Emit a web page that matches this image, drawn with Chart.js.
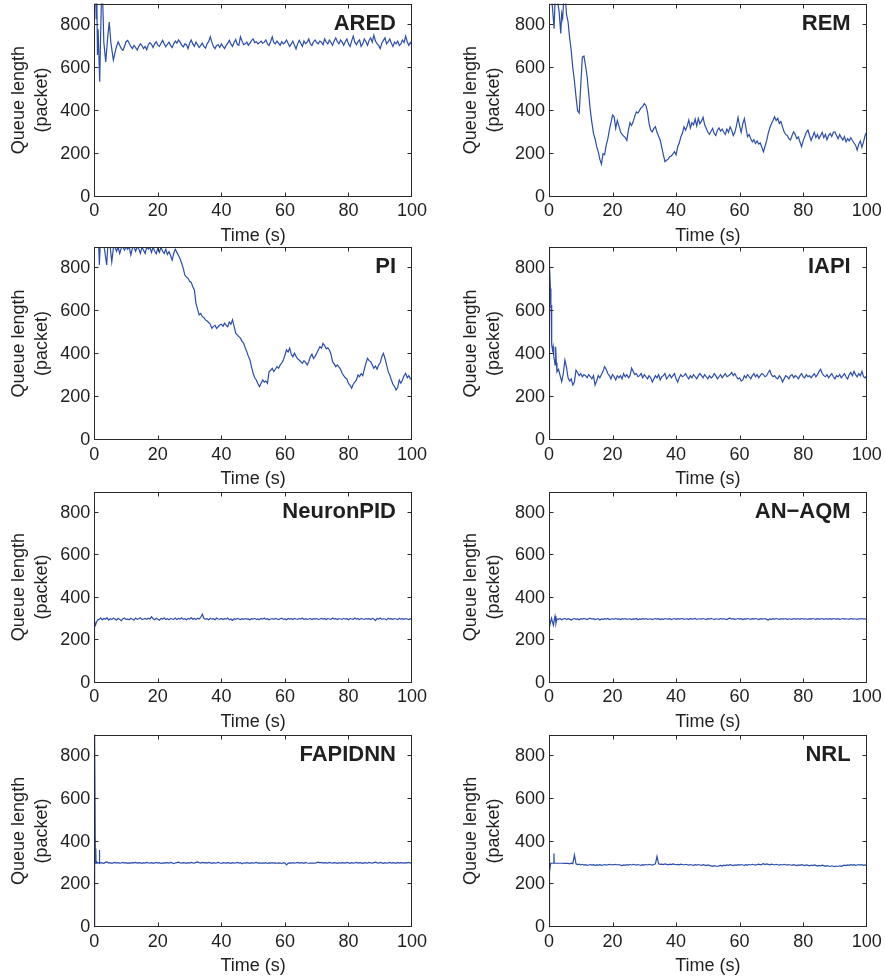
<!DOCTYPE html>
<html>
<head>
<meta charset="utf-8">
<title>Queue length</title>
<script src="https://cdn.jsdelivr.net/npm/chart.js@4.4.0/dist/chart.umd.min.js"></script>
<style>
  body { margin: 0; background: #fff; }
  #figure { position: relative; width: 885px; height: 978px; }
  #figure canvas { position: absolute; }
</style>
</head>
<body>
<div id="figure"></div>
<script>
// ========== Axis ticks ==========
const xTicks = [0, 20, 40, 60, 80, 100];
const yTicks = [0, 200, 400, 600, 800];

// tail samples are every 0.5 s, head samples carry their own times
const tailStep = 0.5;

// ========== ARED ==========
const aredHeadT = [0, 0.02, 0.4, 0.6, 0.8, 1.0, 1.2, 1.7, 2.0, 2.3, 2.6, 3.0, 3.6, 4.2, 4.7, 5.2, 6.0, 6.5, 7.0, 7.5];
const aredHeadQ = [0, 950, 950, 830, 920, 660, 780, 535, 760, 950, 940, 720, 628, 740, 814, 720, 636, 670, 700, 721];
const aredTailFrom = 8;
const aredTailQ = [
  705, 690, 682, 700, 722, 728, 715, 700, 690, 705,
  695, 683, 700, 712, 704, 690, 700, 685, 708, 718,
  710, 695, 712, 722, 706, 700, 715, 728, 712, 698,
  710, 720, 705, 695, 712, 725, 715, 730, 720, 706,
  698, 712, 708, 690, 715, 730, 712, 700, 720, 708,
  695, 705, 715, 700, 692, 712, 722, 745, 720, 700,
  690, 705, 708, 695, 712, 700, 690, 705, 715, 728,
  712, 700, 718, 732, 710, 705, 745, 725, 708, 712,
  720, 705, 715, 728, 735, 718, 722, 712, 718, 725,
  715, 720, 730, 712, 705, 722, 745, 718, 712, 725,
  715, 705, 722, 712, 718, 730, 715, 700, 712, 725,
  705, 688, 712, 728, 715, 700, 725, 712, 720, 735,
  712, 705, 722, 730, 718, 712, 725, 720, 708, 735,
  720, 712, 730, 718, 705, 725, 740, 722, 712, 730,
  720, 705, 722, 735, 712, 700, 725, 748, 720, 708,
  722, 730, 700, 712, 735, 722, 705, 728, 740, 720,
  752, 725, 712, 705, 690, 715, 728, 740, 712, 722,
  735, 715, 700, 720, 712, 725, 705, 712, 730, 718,
  748, 722, 705, 718, 705
];

// ========== REM ==========
const remHeadT = [0, 0.02, 0.8, 1.2, 1.6, 2.0, 2.6, 3.2, 3.7, 4.0, 4.3, 4.7, 5.2];
const remHeadQ = [0, 950, 930, 860, 783, 950, 920, 860, 760, 853, 830, 940, 920];
const remTailFrom = 5.5;
const remTailQ = [
  850, 815, 740, 680, 600, 540, 465, 400, 390, 520,
  650, 655, 610, 560, 480, 403, 345, 295, 270, 233,
  210, 175, 152, 200, 195, 240, 268, 310, 345, 380,
  372, 318, 355, 330, 302, 290, 282, 275, 262, 310,
  345, 332, 350, 375, 395, 390, 402, 415, 420, 434,
  425, 395, 341, 310, 302, 318, 326, 300, 282, 264,
  230, 195, 163, 170, 175, 186, 190, 199, 210, 195,
  233, 250, 279, 295, 326, 310, 330, 357, 320, 345,
  335, 362, 330, 365, 340, 352, 370, 335, 318, 300,
  290, 305, 318, 295, 285, 310, 320, 305, 315, 300,
  290, 315, 300, 325, 310, 285, 300, 330, 369, 330,
  300, 340, 364, 320, 279, 290, 270, 255, 265, 248,
  260, 245, 250, 230, 209, 235, 260, 295, 320, 340,
  355, 372, 355, 365, 341, 350, 325, 302, 290, 285,
  270, 264, 285, 302, 290, 270, 278, 255, 233, 260,
  280, 300, 310, 285, 262, 280, 300, 275, 290, 270,
  285, 300, 275, 290, 265, 285, 295, 280, 300, 302,
  285, 270, 290, 275, 264, 280, 255, 270, 260, 275,
  262, 250, 240, 217, 245, 260, 230, 255, 285, 302
];

// ========== PI ==========
const piHeadT = [0, 0.02, 1.0, 1.4, 1.6, 1.9, 2.5, 3.2, 3.9, 4.3];
const piHeadQ = [0, 950, 920, 900, 816, 920, 930, 890, 816, 920];
const piTailFrom = 5;
const piTailQ = [
  900, 831, 895, 900, 880, 900, 870, 895, 900, 885,
  900, 890, 900, 863, 895, 900, 880, 900, 892, 870,
  900, 885, 870, 900, 890, 898, 875, 900, 880, 868,
  895, 875, 900, 880, 870, 890, 865, 878, 860, 839,
  870, 890, 875, 860, 845, 824, 800, 769, 760, 754,
  740, 735, 715, 700, 637, 610, 583, 590, 575, 570,
  560, 555, 548, 540, 521, 530, 535, 520, 528, 536,
  540, 530, 545, 535, 528, 550, 540, 560, 530, 498,
  490, 482, 475, 460, 452, 430, 412, 390, 373, 340,
  311, 290, 280, 262, 249, 265, 280, 270, 275, 264,
  318, 325, 334, 320, 330, 342, 335, 350, 360, 373,
  395, 420, 410, 428, 400, 388, 405, 390, 378, 373,
  365, 358, 370, 362, 350, 365, 388, 400, 380, 390,
  405, 420, 435, 428, 451, 440, 425, 430, 420, 400,
  365, 355, 342, 350, 340, 330, 311, 300, 290, 285,
  264, 255, 241, 260, 270, 280, 303, 295, 310, 300,
  330, 358, 381, 370, 365, 350, 334, 345, 330, 350,
  360, 388, 404, 380, 350, 320, 303, 280, 260, 249,
  233, 245, 280, 265, 280, 300, 311, 290, 300, 285,
  285
];

// ========== IAPI ==========
const iapiHeadT = [0, 0.02, 0.15, 0.3, 0.45, 0.6, 0.7, 0.8, 0.9, 1.1, 1.3, 1.5, 1.7, 1.9, 2.1, 2.3];
const iapiHeadQ = [0, 900, 895, 816, 707, 614, 630, 560, 443, 420, 435, 390, 373, 350, 435, 360];
const iapiTailFrom = 2.5;
const iapiTailQ = [
  318, 330, 300, 272, 310, 373, 340, 290, 275, 285,
  256, 270, 326, 315, 300, 310, 295, 305, 300, 290,
  305, 296, 285, 300, 256, 275, 300, 290, 305, 320,
  342, 330, 310, 300, 285, 305, 295, 280, 300, 290,
  300, 285, 310, 295, 305, 290, 300, 335, 320, 305,
  310, 295, 300, 310, 290, 305, 295, 285, 300, 290,
  270, 285, 300, 290, 305, 280, 295, 300, 310, 285,
  295, 305, 290, 300, 310, 285, 270, 290, 305, 295,
  300, 310, 295, 285, 300, 290, 305, 295, 285, 300,
  310, 300, 290, 305, 295, 285, 300, 290, 295, 310,
  300, 285, 295, 305, 290, 300, 310, 295, 300, 305,
  315, 300, 310, 295, 285, 290, 275, 280, 300, 290,
  305, 295, 285, 300, 310, 295, 305, 290, 300, 310,
  305, 295, 300, 315, 325, 305, 295, 300, 290, 285,
  300, 290, 270, 285, 300, 295, 285, 300, 305, 290,
  300, 295, 285, 300, 310, 295, 290, 305, 295, 300,
  290, 300, 310, 295, 305, 320, 330, 310, 300, 295,
  305, 290, 300, 310, 295, 285, 300, 295, 305, 290,
  300, 310, 295, 285, 305, 315, 300, 320, 305, 295,
  310, 300, 320, 295, 290, 300
];

// ========== NeuronPID ==========
const neuronHeadT = [0, 0.02, 0.1, 0.4, 0.7, 1.0];
const neuronHeadQ = [0, 395, 290, 272, 285, 295];
const neuronTailFrom = 1.5;
const neuronTailQ = [
  298, 305, 296, 302, 299, 306, 295, 301, 297, 304,
  300, 294, 303, 298, 292, 301, 305, 297, 300, 296,
  303, 299, 295, 304, 298, 301, 306, 297, 300, 303,
  298, 304, 300, 310, 301, 296, 303, 299, 294, 302,
  299, 305, 297, 301, 296, 303, 300, 298, 304, 297,
  302, 299, 305, 298, 301, 296, 303, 300, 306, 299,
  302, 297, 304, 300, 307, 322, 303, 298, 301, 296,
  303, 299, 301, 296, 304, 300, 298, 302, 297, 301,
  299, 304, 296, 300, 293, 301, 298, 303, 300, 297,
  301, 298, 302, 299, 300, 296, 301, 299, 303, 298,
  300, 297, 302, 299, 304, 298, 301, 296, 300, 302,
  298, 303, 300, 297, 301, 304, 298, 300, 296, 302,
  299, 301, 297, 303, 300, 298, 302, 299, 304, 297,
  301, 298, 300, 303, 297, 301, 299, 302, 298, 300,
  303, 299, 301, 297, 302, 300, 298, 304, 299, 301,
  297, 302, 300, 298, 303, 299, 301, 296, 302, 300,
  298, 304, 299, 301, 297, 303, 300, 298, 302, 299,
  301, 297, 303, 300, 292, 302, 299, 304, 298, 301,
  300, 296, 303, 299, 301, 298, 302, 300, 297, 303,
  299, 301, 298, 302, 300, 297, 301, 299
];

// ========== AN-AQM ==========
const anaqmHeadT = [0, 0.02, 0.1, 0.3, 0.5, 0.8, 1.1, 1.4, 1.7, 1.9, 2.2, 2.5];
const anaqmHeadQ = [0, 397, 265, 263, 285, 303, 285, 270, 300, 313, 280, 300];
const anaqmTailFrom = 3;
const anaqmTailQ = [
  298, 302, 296, 300, 303, 297, 301, 299, 295, 300,
  302, 298, 300, 296, 301, 299, 303, 300, 297, 301,
  304, 299, 301, 297, 300, 302, 295, 300, 298, 301,
  299, 302, 297, 300, 301, 298, 303, 299, 300, 297,
  301, 299, 302, 298, 300, 301, 297, 300, 299, 302,
  296, 300, 298, 301, 299, 302, 298, 300, 301, 297,
  300, 302, 299, 301, 297, 300, 298, 302, 300, 299,
  301, 297, 300, 302, 298, 301, 299, 300, 302, 298,
  300, 301, 297, 302, 299, 300, 303, 298, 300, 301,
  299, 302, 300, 297, 301, 299, 303, 300, 298, 301,
  300, 298, 302, 299, 301, 300, 297, 302, 304, 299,
  301, 298, 300, 302, 299, 301, 297, 300, 299, 302,
  300, 298, 301, 299, 302, 300, 297, 301, 299, 300,
  302, 298, 295, 300, 298, 301, 299, 302, 300, 298,
  301, 299, 300, 302, 297, 301, 300, 298, 302, 299,
  300, 301, 298, 302, 299, 301, 300, 298, 301, 299,
  302, 300, 298, 301, 299, 300, 302, 298, 301, 300,
  299, 301, 298, 302, 300, 299, 301, 298, 300, 302,
  299, 301, 300, 298, 302, 299, 301, 300, 298, 301,
  300, 302, 299, 301, 300
];

// ========== FAPIDNN ==========
const fapidnnHeadT = [0, 0.02, 0.2, 0.35, 0.45, 0.55, 0.8, 1.2, 1.5, 1.6, 1.7, 2.0];
const fapidnnHeadQ = [0, 950, 900, 299, 369, 300, 305, 300, 302, 361, 300, 302];
const fapidnnTailFrom = 2.5;
const fapidnnTailQ = [
  301, 299, 303, 305, 300, 302, 299, 301, 303, 300,
  302, 300, 301, 303, 300, 302, 299, 301, 300, 302,
  301, 303, 300, 302, 301, 299, 302, 300, 303, 301,
  300, 302, 299, 301, 303, 300, 302, 298, 301, 300,
  302, 301, 300, 303, 301, 297, 300, 302, 304, 301,
  300, 302, 301, 299, 302, 300, 303, 301, 300, 303,
  305, 302, 300, 303, 301, 302, 300, 303, 301, 299,
  302, 300, 301, 303, 300, 298, 302, 301, 300, 302,
  301, 299, 302, 300, 301, 303, 300, 302, 297, 301,
  300, 302, 301, 299, 302, 300, 301, 303, 300, 301,
  299, 301, 300, 302, 298, 301, 300, 302, 300, 301,
  299, 301, 300, 298, 302, 300, 291, 299, 301, 300,
  302, 300, 301, 303, 300, 302, 301, 299, 303, 300,
  299, 300, 300, 300, 299, 302, 304, 301, 303, 300,
  302, 301, 300, 303, 301, 300, 302, 301, 299, 302,
  300, 302, 301, 300, 303, 301, 299, 302, 300, 301,
  303, 300, 302, 301, 299, 302, 301, 300, 303, 301,
  300, 302, 304, 301, 300, 303, 301, 299, 302, 300,
  301, 303, 300, 302, 301, 299, 303, 300, 302, 301,
  300, 302, 301, 303, 300, 301
];

// ========== NRL ==========
const nrlHeadT = [0, 0.02, 0.3, 0.55, 0.8, 1.4, 1.55, 1.65, 1.8, 3.0, 4.0, 5.0];
const nrlHeadQ = [0, 330, 260, 299, 299, 299, 345, 299, 299, 299, 299, 298];
const nrlTailFrom = 5.5;
const nrlTailQ = [
  299, 298, 296, 299, 297, 338, 296, 293, 295, 291,
  294, 290, 292, 289, 291, 293, 290, 292, 289, 291,
  290, 292, 289, 291, 293, 290, 292, 294, 291, 293,
  292, 294, 291, 293, 290, 288, 291, 289, 292, 290,
  293, 291, 294, 292, 290, 293, 291, 289, 292, 290,
  293, 291, 294, 292, 290, 293, 296, 331, 296, 294,
  295, 293, 296, 294, 292, 295, 293, 296, 294, 292,
  294, 292, 295, 293, 291, 294, 292, 290, 293, 291,
  289, 292, 290, 293, 291, 289, 292, 290, 288, 291,
  289, 287, 285, 288, 286, 284, 287, 289, 286, 290,
  288, 291, 289, 292, 290, 288, 291, 289, 292, 290,
  293, 291, 289, 292, 290, 293, 291, 294, 292, 290,
  293, 295, 292, 294, 297, 293, 296, 294, 292, 295,
  293, 291, 294, 292, 290, 293, 291, 294, 292, 290,
  293, 291, 289, 292, 290, 288, 291, 289, 292, 290,
  288, 291, 289, 287, 290, 288, 291, 289, 286, 289,
  287, 290, 288, 285, 288, 286, 284, 287, 285, 283,
  286, 284, 287, 285, 288, 290, 288, 291, 289, 292,
  290, 292, 289, 291, 293, 290, 292, 289, 291, 290
];

// ========== Panels (row, col in the 4x2 grid) ==========
const panels = [
  { title: 'ARED', row: 0, col: 0, headT: aredHeadT, headQ: aredHeadQ, tailFrom: aredTailFrom, tailQ: aredTailQ },
  { title: 'REM', row: 0, col: 1, headT: remHeadT, headQ: remHeadQ, tailFrom: remTailFrom, tailQ: remTailQ },
  { title: 'PI', row: 1, col: 0, headT: piHeadT, headQ: piHeadQ, tailFrom: piTailFrom, tailQ: piTailQ },
  { title: 'IAPI', row: 1, col: 1, headT: iapiHeadT, headQ: iapiHeadQ, tailFrom: iapiTailFrom, tailQ: iapiTailQ },
  { title: 'NeuronPID', row: 2, col: 0, headT: neuronHeadT, headQ: neuronHeadQ, tailFrom: neuronTailFrom, tailQ: neuronTailQ },
  { title: 'AN\u2212AQM', row: 2, col: 1, headT: anaqmHeadT, headQ: anaqmHeadQ, tailFrom: anaqmTailFrom, tailQ: anaqmTailQ },
  { title: 'FAPIDNN', row: 3, col: 0, headT: fapidnnHeadT, headQ: fapidnnHeadQ, tailFrom: fapidnnTailFrom, tailQ: fapidnnTailQ },
  { title: 'NRL', row: 3, col: 1, headT: nrlHeadT, headQ: nrlHeadQ, tailFrom: nrlTailFrom, tailQ: nrlTailQ }
];

// ========== Layout and style ==========
const plotTops = [3.5, 247, 491.5, 734.5];
const plotBottoms = [196.7, 440, 682.7, 927.3];
const plotLefts = [94.3, 549];
const plotRights = [412, 866.7];
const canvasLefts = [0, 452];
const canvasRights = [445, 885];
const X_AXIS_H = 50;

const LINE_COLOR = '#2b4dab';
const AXIS_COLOR = '#2a2a2a';
const TEXT_COLOR = '#1f1f1f';
const TICK_LEN = 4;

Chart.defaults.font.family = '"Liberation Sans", Arial, Helvetica, sans-serif';
Chart.defaults.color = TEXT_COLOR;

// box, inward ticks on all four sides and the scheme name
const framePlugin = {
  id: 'frame',
  afterDatasetsDraw(chart, args, opts) {
    const { ctx, chartArea: a, scales: { x, y } } = chart;
    const L = Math.round(a.left) + 0.5, R = Math.round(a.right) - 0.5;
    const T = Math.round(a.top) + 0.5, B = Math.round(a.bottom) - 0.5;
    const clampX = v => Math.min(R, Math.max(L, v));
    const clampY = v => Math.min(B, Math.max(T, v));
    ctx.save();
    ctx.strokeStyle = AXIS_COLOR;
    ctx.lineWidth = 1;
    ctx.beginPath();
    xTicks.forEach(v => {
      const px = clampX(Math.round(x.getPixelForValue(v)) + 0.5);
      ctx.moveTo(px, B); ctx.lineTo(px, B - TICK_LEN);
      ctx.moveTo(px, T); ctx.lineTo(px, T + TICK_LEN);
    });
    yTicks.forEach(v => {
      const py = clampY(Math.round(y.getPixelForValue(v)) - 0.5);
      ctx.moveTo(L, py); ctx.lineTo(L + TICK_LEN, py);
      ctx.moveTo(R, py); ctx.lineTo(R - TICK_LEN, py);
    });
    ctx.stroke();
    ctx.strokeRect(L, T, R - L, B - T);

    ctx.font = 'bold 22px "Liberation Sans", Arial, sans-serif';
    ctx.fillStyle = TEXT_COLOR;
    ctx.textAlign = 'right';
    ctx.textBaseline = 'alphabetic';
    ctx.fillText(opts.text, a.right - 16, a.top + 26);
    ctx.restore();
  }
};

function buildPoints(p) {
  const pts = p.headT.map((t, i) => ({ x: t, y: p.headQ[i] }));
  p.tailQ.forEach((q, i) => pts.push({ x: p.tailFrom + i * tailStep, y: q }));
  return pts;
}

// drop the half-label overflow Chart.js reserves so the plot box sits where we put it
function noScalePadding(s) {
  s.paddingTop = 0;
  s.paddingBottom = 0;
  s.paddingLeft = 0;
  s.paddingRight = 0;
}

// ========== Draw panels ==========
const figure = document.getElementById('figure');

panels.forEach(p => {
  const top = Math.floor(plotTops[p.row]) - 3;
  const bottom = Math.ceil(plotBottoms[p.row] + X_AXIS_H);
  const left = canvasLefts[p.col];
  const width = canvasRights[p.col] - left;
  const height = bottom - top;

  const canvas = document.createElement('canvas');
  canvas.width = width;
  canvas.height = height;
  canvas.style.left = left + 'px';
  canvas.style.top = top + 'px';
  canvas.style.width = width + 'px';
  canvas.style.height = height + 'px';
  figure.appendChild(canvas);

  const yAxisW = plotLefts[p.col] - left;

  new Chart(canvas, {
    type: 'line',
    data: {
      datasets: [{
        data: buildPoints(p),
        borderColor: LINE_COLOR,
        borderWidth: 1.2,
        pointRadius: 0,
        tension: 0,
        fill: false
      }]
    },
    options: {
      responsive: false,
      animation: false,
      devicePixelRatio: 1,
      events: [],
      layout: {
        padding: {
          top: plotTops[p.row] - top,
          bottom: bottom - plotBottoms[p.row] - X_AXIS_H,
          left: 0,
          right: canvasRights[p.col] - plotRights[p.col]
        }
      },
      plugins: {
        legend: { display: false },
        tooltip: { enabled: false },
        frame: { text: p.title }
      },
      scales: {
        x: {
          type: 'linear',
          min: 0,
          max: 100,
          afterBuildTicks: s => { s.ticks = xTicks.map(v => ({ value: v })); },
          afterFit: s => { s.height = X_AXIS_H; noScalePadding(s); },
          grid: { display: false, drawTicks: false },
          border: { display: false },
          ticks: { font: { size: 18 }, padding: 4, maxRotation: 0, autoSkip: false },
          title: { display: true, text: 'Time (s)', font: { size: 18 }, padding: 0 }
        },
        y: {
          min: 0,
          max: 900,
          afterBuildTicks: s => { s.ticks = yTicks.map(v => ({ value: v })); },
          afterFit: s => { s.width = yAxisW; noScalePadding(s); },
          grid: { display: false, drawTicks: false },
          border: { display: false },
          ticks: { font: { size: 18 }, padding: 4 },
          title: {
            display: true,
            text: ['Queue length', '(packet)'],
            font: { size: 18, lineHeight: 1.3 },
            padding: { top: 7, bottom: 0 }
          }
        }
      }
    },
    plugins: [framePlugin]
  });
});
</script>
</body>
</html>
